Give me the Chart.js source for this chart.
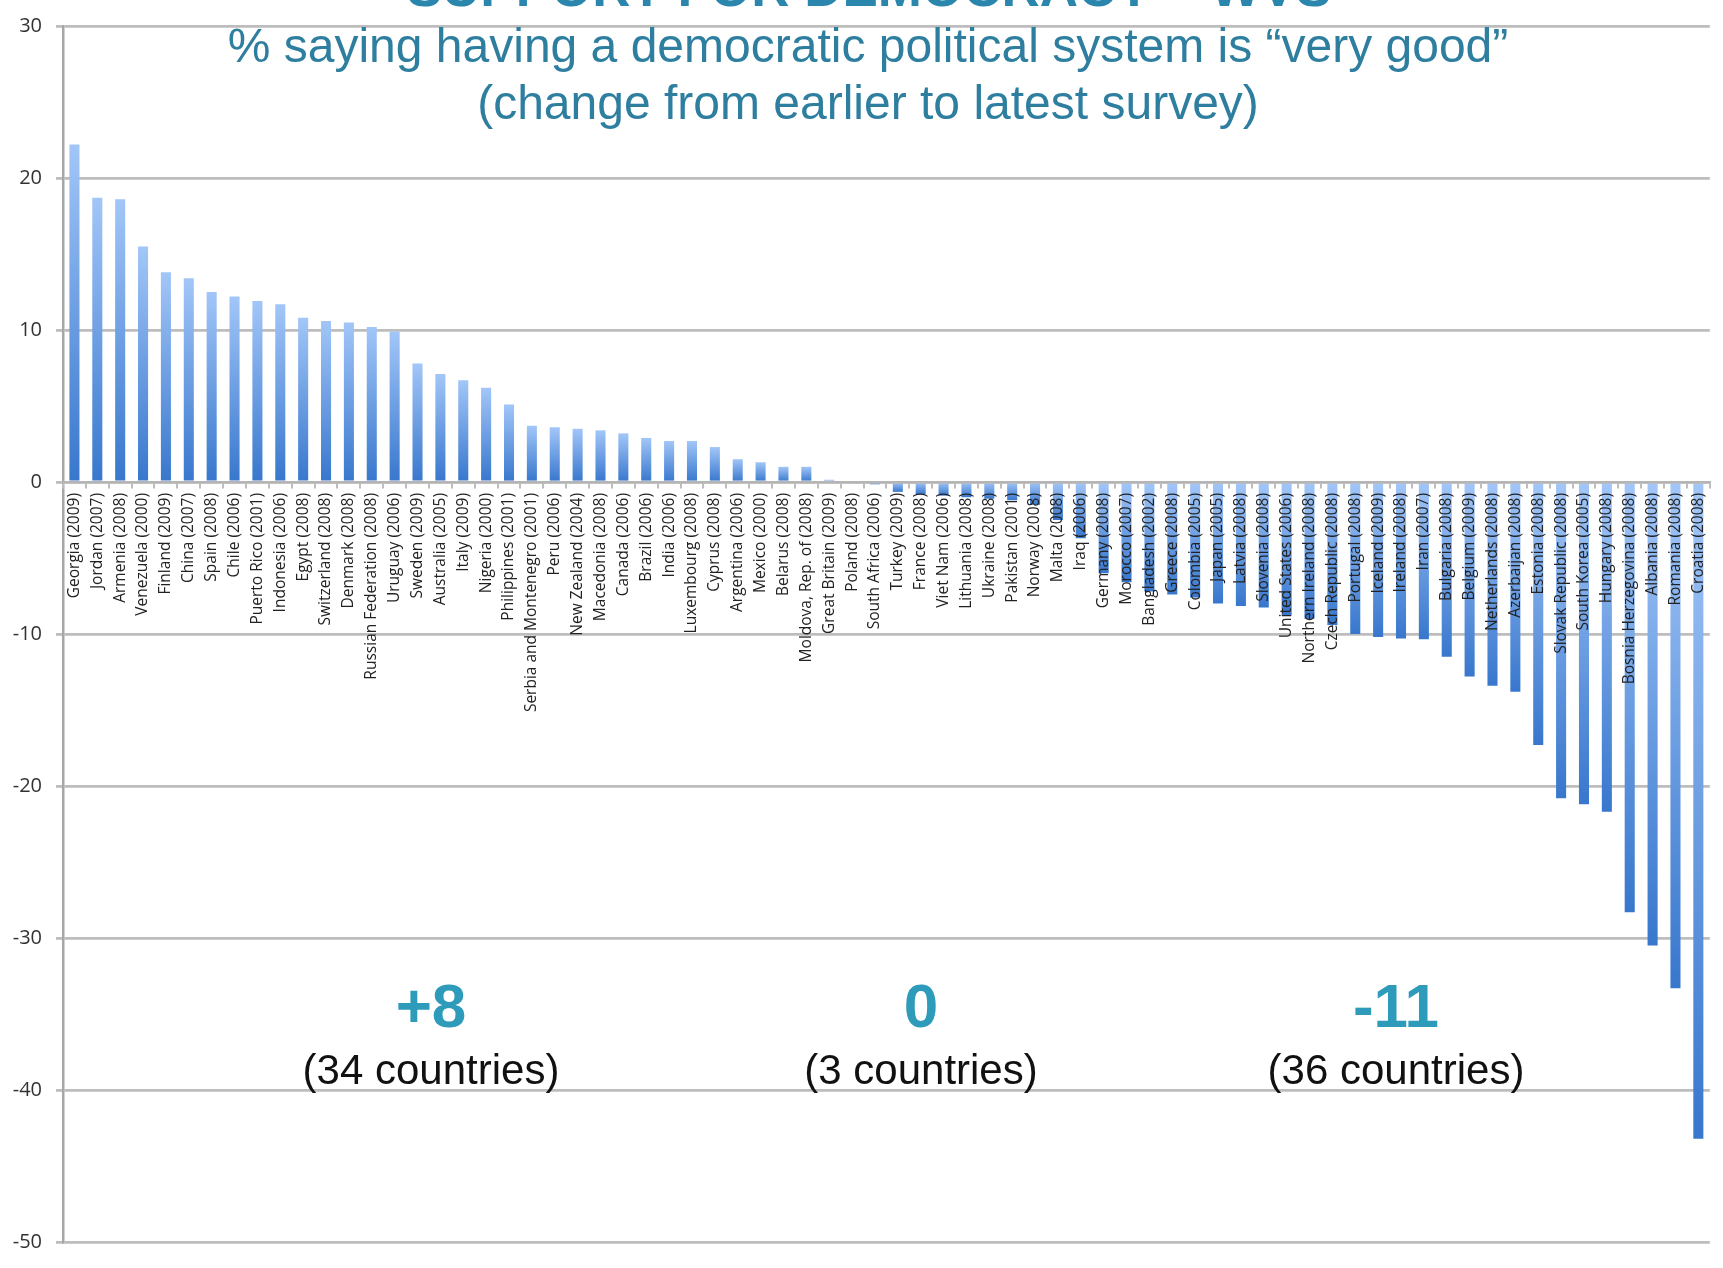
<!DOCTYPE html>
<html>
<head>
<meta charset="utf-8">
<script src="https://cdn.jsdelivr.net/npm/chart.js@4.4.0/dist/chart.umd.min.js"></script>
<style>
  html, body { margin: 0; padding: 0; background: #fff; }
  #wrap { width: 1723px; height: 1268px; position: relative; }
</style>
</head>
<body>
<div id="wrap"><canvas id="chart"></canvas></div>
<script>
// WVS countries, sorted by change in "very good" share (percentage points)
const countries = [
  'Georgia (2009)', 'Jordan (2007)', 'Armenia (2008)', 'Venezuela (2000)', 'Finland (2009)',
  'China (2007)', 'Spain (2008)', 'Chile (2006)', 'Puerto Rico (2001)', 'Indonesia (2006)',
  'Egypt (2008)', 'Switzerland (2008)', 'Denmark (2008)', 'Russian Federation (2008)', 'Uruguay (2006)',
  'Sweden (2009)', 'Australia (2005)', 'Italy (2009)', 'Nigeria (2000)', 'Philippines (2001)',
  'Serbia and Montenegro (2001)', 'Peru (2006)', 'New Zealand (2004)', 'Macedonia (2008)', 'Canada (2006)',
  'Brazil (2006)', 'India (2006)', 'Luxembourg (2008)', 'Cyprus (2008)', 'Argentina (2006)',
  'Mexico (2000)', 'Belarus (2008)', 'Moldova, Rep. of (2008)', 'Great Britain (2009)', 'Poland (2008)',
  'South Africa (2006)', 'Turkey (2009)', 'France (2008)', 'Viet Nam (2006)', 'Lithuania (2008)',
  'Ukraine (2008)', 'Pakistan (2001)', 'Norway (2008)', 'Malta (2008)', 'Iraq (2006)',
  'Germany (2008)', 'Morocco (2007)', 'Bangladesh (2002)', 'Greece (2008)', 'Colombia (2005)',
  'Japan (2005)', 'Latvia (2008)', 'Slovenia (2008)', 'United States (2006)', 'Northern Ireland (2008)',
  'Czech Republic (2008)', 'Portugal (2008)', 'Iceland (2009)', 'Ireland (2008)', 'Iran (2007)',
  'Bulgaria (2008)', 'Belgium (2009)', 'Netherlands (2008)', 'Azerbaijan (2008)', 'Estonia (2008)',
  'Slovak Republic (2008)', 'South Korea (2005)', 'Hungary (2008)', 'Bosnia Herzegovina (2008)', 'Albania (2008)',
  'Romania (2008)', 'Croatia (2008)'
];

const changeValues = [
  22.2, 18.7, 18.6, 15.5, 13.8,
  13.4, 12.5, 12.2, 11.9, 11.7,
  10.8, 10.6, 10.5, 10.2, 9.9,
  7.8, 7.1, 6.7, 6.2, 5.1,
  3.7, 3.6, 3.5, 3.4, 3.2,
  2.9, 2.7, 2.7, 2.3, 1.5,
  1.3, 1.0, 1.0, 0.15, 0,
  -0.15, -0.65, -0.8, -0.9, -1.0,
  -1.1, -1.2, -1.5, -2.5, -3.7,
  -6.0, -6.6, -7.2, -7.4, -7.6,
  -8.0, -8.15, -8.25, -8.8, -9.0,
  -9.4, -10.0, -10.2, -10.3, -10.35,
  -11.5, -12.8, -13.4, -13.8, -17.3,
  -20.8, -21.2, -21.7, -28.3, -30.5,
  -33.3, -43.2
];

const yTickValues = [30, 20, 10, 0, -10, -20, -30, -40, -50];

const titleText = 'SUPPORT FOR DEMOCRACY – WVS';
const subtitleLines = [
  '% saying having a democratic political system is “very good”',
  '(change from earlier to latest survey)'
];
const groupAverages = ['+8', '0', '-11'];
const groupCounts = ['(34 countries)', '(3 countries)', '(36 countries)'];

// each bar gets its own vertical gradient: light at its upper end, darker at its lower end
function barFill(context) {
  const chart = context.chart;
  const yScale = chart.scales.y;
  const flat = '#5a90dc';
  if (!yScale || context.type !== 'data') return flat;
  const v = context.raw;
  const yTop = yScale.getPixelForValue(Math.max(v, 0));
  const yBottom = yScale.getPixelForValue(Math.min(v, 0));
  if (!Number.isFinite(yTop) || !Number.isFinite(yBottom) || yBottom - yTop < 1) return flat;
  const g = chart.ctx.createLinearGradient(0, yTop, 0, yBottom);
  g.addColorStop(0, '#a2c6f8');
  g.addColorStop(1, '#3877cd');
  return g;
}

// soft chart body, crisp slide text on top
const slideText = {
  id: 'slideText',
  beforeDraw(chart) {
    chart.ctx.save();
    chart.ctx.filter = 'blur(0.6px)';
  },
  afterDraw(chart) {
    const ctx = chart.ctx;
    ctx.restore();
    ctx.save();
    ctx.textAlign = 'center';
    ctx.textBaseline = 'alphabetic';

    ctx.fillStyle = '#2a86ad';
    ctx.font = 'bold 53px "Liberation Sans", Arial, sans-serif';
    ctx.fillText(titleText, 869, 6);

    ctx.fillStyle = '#2e7ea0';
    ctx.font = '48px "Liberation Sans", Arial, sans-serif';
    ctx.fillText(subtitleLines[0], 868, 62);
    ctx.fillText(subtitleLines[1], 868, 119);

    const centers = [431, 921, 1396];
    centers.forEach((x, i) => {
      ctx.fillStyle = '#2e9bbb';
      ctx.font = 'bold 62px "Liberation Sans", Arial, sans-serif';
      ctx.fillText(groupAverages[i], x, 1027);
      ctx.fillStyle = '#111111';
      ctx.font = '42px "Liberation Sans", Arial, sans-serif';
      ctx.fillText(groupCounts[i], x, 1084);
    });
    ctx.restore();
  }
};

new Chart(document.getElementById('chart'), {
  type: 'bar',
  data: {
    labels: countries,
    datasets: [{
      data: changeValues,
      backgroundColor: barFill,
      borderWidth: 0,
      categoryPercentage: 1,
      barPercentage: 0.44
    }]
  },
  options: {
    responsive: true,
    maintainAspectRatio: false,
    animation: false,
    layout: { padding: { top: 14, right: 9, bottom: 9, left: 0 } },
    plugins: {
      legend: { display: false },
      tooltip: { enabled: false }
    },
    scales: {
      x: {
        position: { y: 0 },
        offset: true,
        grid: {
          drawOnChartArea: false,
          drawTicks: true,
          tickLength: 5,
          color: '#bdbdbd',
          lineWidth: 2,
          offset: true,
          z: 1
        },
        border: { color: '#b5b5b5', width: 2.5, z: 1 },
        ticks: {
          z: 1,
          autoSkip: false,
          minRotation: 90,
          maxRotation: 90,
          padding: 6,
          color: '#222222',
          font: { family: '"Open Sans", sans-serif', size: 15.5 }
        }
      },
      y: {
        min: -50,
        max: 30,
        afterFit(scale) { scale.width = 63; },
        afterBuildTicks(scale) { scale.ticks = yTickValues.map(v => ({ value: v })); },
        grid: {
          color: '#bdbdbd',
          lineWidth: 2.8,
          drawTicks: true,
          tickLength: 7
        },
        border: { color: '#a6a6a6', width: 2.5 },
        ticks: {
          padding: 14,
          color: '#333333',
          font: { family: '"Open Sans", sans-serif', size: 20 }
        }
      }
    }
  },
  plugins: [slideText]
});
</script>
</body>
</html>
